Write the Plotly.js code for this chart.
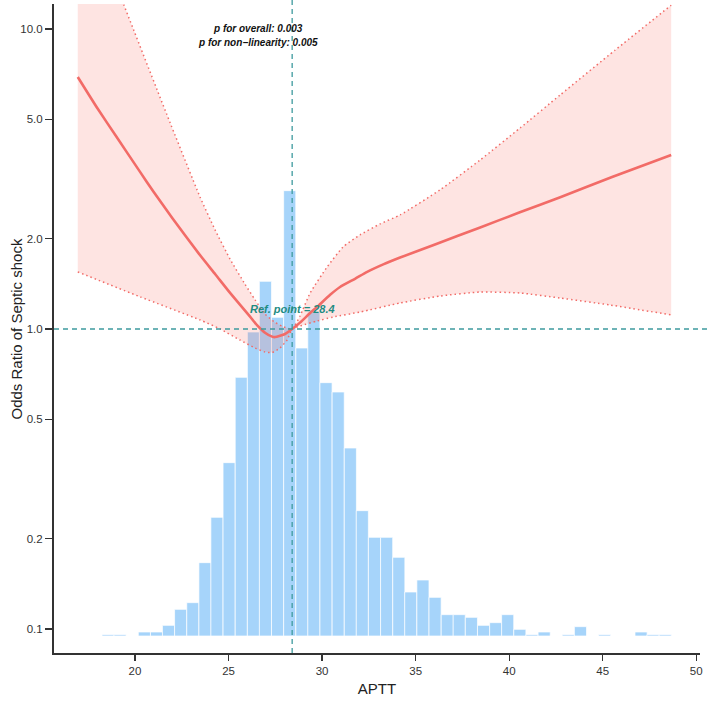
<!DOCTYPE html>
<html>
<head>
<meta charset="utf-8">
<script src="https://cdn.plot.ly/plotly-3.0.1.min.js"></script>
<style>html,body{margin:0;padding:0;background:#fff;}#chart{width:708px;height:708px;}</style>
</head>
<body>
<div id="chart"></div>
<script>
// ---- data ----
var fitX  = [16.94, 18.0, 19.0, 20.27, 21.0, 22.0, 23.48, 24.3, 25.08, 26.15, 26.52, 26.95, 27.33, 27.49, 28.02, 28.4, 28.82, 29.36, 29.73, 30.43, 30.96, 31.76, 32.41, 33.3, 34.17, 36.0, 38.45, 40.5, 42.73, 45.5, 48.66];
var orFit = [6.92, 5.43, 4.38, 3.34, 2.86, 2.34, 1.76, 1.52, 1.32, 1.10, 1.03, 0.972, 0.943, 0.94, 0.962, 1.0, 1.05, 1.13, 1.184, 1.30, 1.38, 1.47, 1.55, 1.645, 1.73, 1.91, 2.18, 2.44, 2.75, 3.21, 3.80];

var upperX  = [16.94, 19.41, 21.71, 23.48, 24.28, 25.08, 25.88, 26.42, 26.95, 27.49, 27.97, 28.4, 28.82, 29.36, 30.27, 31.12, 32.03, 33.10, 34.17, 36.31, 38.45, 40.59, 42.73, 45.67, 48.66];
var orUpper = [29.7, 12.0, 5.17, 2.75, 2.14, 1.71, 1.41, 1.25, 1.122, 1.051, 1.015, 1.0, 1.105, 1.318, 1.61, 1.876, 2.06, 2.24, 2.40, 2.91, 3.66, 4.68, 6.03, 8.51, 12.0];

var lowerX  = [16.94, 20.27, 23.48, 24.55, 25.61, 26.42, 26.95, 27.33, 27.75, 28.13, 28.4, 28.82, 29.73, 30.59, 32.03, 34.17, 36.31, 38.45, 40.59, 42.73, 45.40, 48.66];
var orLower = [1.55, 1.28, 1.072, 1.0, 0.919, 0.864, 0.838, 0.835, 0.864, 0.919, 1.0, 1.023, 1.063, 1.096, 1.139, 1.221, 1.288, 1.328, 1.318, 1.268, 1.202, 1.114];

var binCenters = [17.26, 17.91, 18.56, 19.20, 19.85, 20.50, 21.15, 21.79, 22.44, 23.09, 23.74, 24.38, 25.03, 25.68, 26.33, 26.97, 27.62, 28.27, 28.92, 29.56, 30.21, 30.86, 31.51, 32.15, 32.80, 33.45, 34.10, 34.74, 35.39, 36.04, 36.69, 37.33, 37.98, 38.63, 39.28, 39.92, 40.57, 41.22, 41.87, 42.51, 43.16, 43.81, 44.46, 45.10, 45.75, 46.40, 47.05, 47.69, 48.34];
var binCounts = [0, 0, 1, 1, 0, 3, 3, 8, 20, 25, 55, 89, 130, 194, 228, 266, 239, 334, 216, 243, 190, 183, 141, 94, 74, 74, 59, 33, 42, 29, 16, 16, 14, 8, 10, 16, 5, 1, 3, 0, 1, 7, 0, 1, 0, 0, 3, 1, 1];
var binWidth = 0.6473;

var xTicks = [20, 25, 30, 35, 40, 45, 50];
var yTicks = [0.1, 0.2, 0.5, 1, 2, 5, 10];
var yTickText = ["0.1", "0.2", "0.5", "1.0", "2.0", "5.0", "10.0"];
var refPoint = 28.4;
var pOverall = "p for overall: 0.003";
var pNonlin = "p for non\u2212linearity: 0.005";
var xTitle = "APTT";
var yTitle = "Odds Ratio of Septic shock";

// ---- styles ----
var red = '#F26B67';
var teal = '#3E9A9E';
var font = 'Liberation Sans, Arial, sans-serif';

var traces = [
  {type: 'bar', x: binCenters, y: binCounts, width: binWidth, xaxis: 'x', yaxis: 'y',
   marker: {color: '#A6D4FA', line: {color: '#ffffff', width: 0.7}}, hoverinfo: 'skip'},
  {type: 'scatter', mode: 'lines', x: upperX, y: orUpper, xaxis: 'x', yaxis: 'y2',
   line: {color: red, width: 1.5, dash: '1.5px,3px', shape: 'spline', smoothing: 0.5}},
  {type: 'scatter', mode: 'lines', x: lowerX, y: orLower, xaxis: 'x', yaxis: 'y2',
   fill: 'tonexty', fillcolor: 'rgba(248,118,109,0.2)',
   line: {color: red, width: 1.5, dash: '1.5px,3px', shape: 'spline', smoothing: 0.5}},
  {type: 'scatter', mode: 'lines', x: fitX, y: orFit, xaxis: 'x', yaxis: 'y2',
   line: {color: red, width: 2.6, shape: 'spline', smoothing: 0.5}}
];

var layout = {
  width: 708, height: 708,
  margin: {l: 54, r: 8, t: 4, b: 55},
  paper_bgcolor: '#ffffff', plot_bgcolor: 'rgba(0,0,0,0)',
  showlegend: false,
  font: {family: font, color: '#333333'},
  xaxis: {
    range: [15.67, 50.2], tickvals: xTicks, ticks: 'outside', ticklen: 6, tickwidth: 1.2, tickcolor: '#333',
    showline: true, linecolor: '#333', linewidth: 2, showgrid: false, zeroline: false,
    tickfont: {family: font, size: 11.5, color: '#333'},
    title: {text: xTitle, font: {family: font, size: 15, color: '#222'}, standoff: 8}
  },
  yaxis: {range: [-12.75, 474], visible: false, showgrid: false, zeroline: false, fixedrange: true},
  yaxis2: {
    overlaying: 'y', side: 'left', type: 'log', range: [-1.08, 1.0833],
    tickvals: yTicks, ticktext: yTickText, ticks: 'outside', ticklen: 7, tickwidth: 1.2, tickcolor: '#333',
    showline: true, linecolor: '#333', linewidth: 2, showgrid: false, zeroline: false,
    tickfont: {family: font, size: 11.5, color: '#333'}
  },
  shapes: [
    {type: 'line', xref: 'paper', x0: 0, x1: 1.0124, yref: 'y2', y0: 1, y1: 1,
     line: {color: teal, width: 1.3, dash: '5px,4px'}},
    {type: 'line', xref: 'x', x0: refPoint, x1: refPoint, yref: 'paper', y0: 0, y1: 1.006,
     line: {color: teal, width: 1.3, dash: '5px,4px'}}
  ],
  annotations: [
    {xref: 'paper', x: -0.0573, yref: 'paper', y: 0.5, text: yTitle, textangle: -90, showarrow: false,
     font: {family: font, size: 15, color: '#222'}, xanchor: 'center', yanchor: 'middle'},
    {xref: 'x', x: 26.58, yref: 'paper', y: 0.9615, text: '<b><i>' + pOverall + '</i></b>', showarrow: false,
     font: {family: font, size: 10, color: '#111'}, xanchor: 'center', yanchor: 'middle'},
    {xref: 'x', x: 26.58, yref: 'paper', y: 0.940, text: '<b><i>' + pNonlin + '</i></b>', showarrow: false,
     font: {family: font, size: 10, color: '#111'}, xanchor: 'center', yanchor: 'middle'},
    {xref: 'x', x: refPoint, yref: 'paper', y: 0.530, text: '<b><i>Ref. point = ' + refPoint + '</i></b>', showarrow: false,
     font: {family: font, size: 11, color: '#1E8C82'}, xanchor: 'center', yanchor: 'middle'}
  ]
};

Plotly.newPlot('chart', traces, layout, {displayModeBar: false, staticPlot: true});
</script>
</body>
</html>
